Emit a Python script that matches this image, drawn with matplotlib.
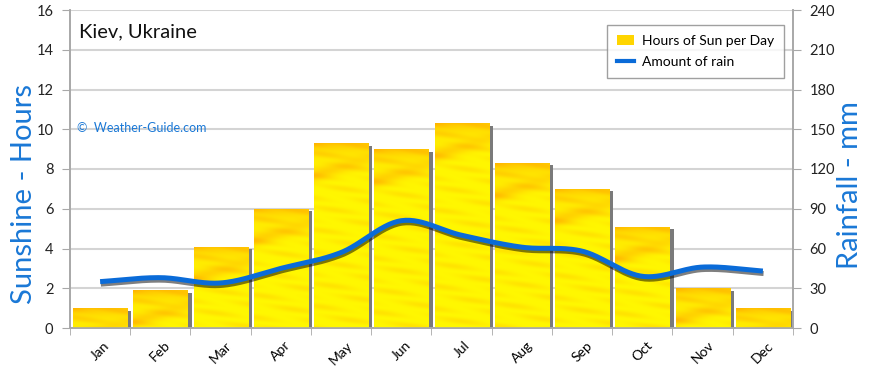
import matplotlib as mpl
import matplotlib.pyplot as plt
import numpy as np
from matplotlib import patheffects as pe
from matplotlib.patches import Patch
from matplotlib.lines import Line2D

mpl.rcParams.update({
    "font.family": ["Lato", "DejaVu Sans"],
    "font.size": 10,
})

months = ["Jan", "Feb", "Mar", "Apr", "May", "Jun",
          "Jul", "Aug", "Sep", "Oct", "Nov", "Dec"]
sun_hours = [1.0, 1.9, 4.1, 6.0, 9.3, 9.0, 10.3, 8.3, 7.0, 5.1, 2.0, 1.0]
rain_mm = [35, 38, 34, 45, 57, 81, 70, 61, 58, 39, 46, 43]
sun_ticks = [0, 2, 4, 6, 8, 10, 12, 14, 16]
rain_ticks = [0, 30, 60, 90, 120, 150, 180, 210, 240]

BLUE = "#1a78d6"
LINE_BLUE = "#0a6bd8"
GRID = "#d4d4d4"
AXIS = "#a8a8a8"


def bar_texture(height, w=60):
    # streaky yellow/orange fill; v is hours below the bar top
    h = max(int(height * 20), 4)
    v, u = np.mgrid[0:height:h * 1j, 0:1:w * 1j]
    streak = 0.5 + 0.5 * np.sin(2 * np.pi * (v / 1.3 - u * 0.9))
    streak2 = 0.5 + 0.5 * np.sin(2 * np.pi * (v / 0.55 - u * 0.4 + 0.3))
    top = np.exp(-v / 0.5) * (0.75 + 0.25 * (1 - u))
    band = 0.55 * np.exp(-((v - 1.6 + 0.8 * u) / 0.35) ** 2) * (1 - 0.5 * u)
    wgt = np.clip(0.28 * streak * streak2 + 0.85 * top + band, 0, 1)
    yellow = np.array([1.0, 0.97, 0.0])
    orange = np.array([1.0, 0.70, 0.0])
    return yellow * (1 - wgt[..., None]) + orange * wgt[..., None]


fig = plt.figure(figsize=(8.7, 3.68), dpi=100)
ax = fig.add_axes([70 / 870, 40 / 368, 723 / 870, 318 / 368])
ax2 = ax.twinx()

x = np.arange(len(months))
width = 0.9

ax.set_xlim(-0.5, 11.5)
ax.set_ylim(0, 16)
ax2.set_ylim(0, 240)

# shadows then bars
ax.bar(x + 0.07, np.array(sun_hours) - 0.12, width=width, color="#7a7a7a",
       zorder=2)
bars = ax.bar(x, sun_hours, width=width, color="#fff200", zorder=3)
for b in bars:
    x0, y0, bh = b.get_x(), b.get_y(), b.get_height()
    im = ax.imshow(bar_texture(bh), extent=[x0, x0 + b.get_width(), y0, y0 + bh],
                   origin="upper", aspect="auto", zorder=3.5,
                   interpolation="bilinear")
    im.set_clip_path(b)

# rain line, drawn as a smooth curve through the monthly values
r = np.array(rain_mm, dtype=float)
m = np.gradient(r)
xs, ys = [], []
for i in range(len(r) - 1):
    t = np.linspace(0, 1, 30)
    h00 = 2 * t**3 - 3 * t**2 + 1
    h10 = t**3 - 2 * t**2 + t
    h01 = -2 * t**3 + 3 * t**2
    h11 = t**3 - t**2
    xs.append(i + t)
    ys.append(h00 * r[i] + h10 * m[i] + h01 * r[i + 1] + h11 * m[i + 1])
xs = np.concatenate(xs)
ys = np.concatenate(ys)
ax2.plot(xs, ys, color=LINE_BLUE, lw=3.6, solid_capstyle="butt", zorder=5,
         path_effects=[pe.SimpleLineShadow(offset=(0.5, -1.8), shadow_color="black",
                                           alpha=0.5, rho=1),
                       pe.Normal()])

# axes styling
ax.set_yticks(sun_ticks)
ax2.set_yticks(rain_ticks)
ax.set_xticks(x)
ax.set_xticks(np.arange(-0.5, 12, 1), minor=True)
ax.set_xticklabels(months, rotation=45, ha="center", fontsize=10)
ax.tick_params(axis="x", which="major", length=0, pad=8)
ax.tick_params(axis="x", which="minor", length=5, color=AXIS)
ax.tick_params(axis="y", length=6, color=AXIS, labelsize=10.5, pad=6,
               labelcolor="#222222")
ax2.tick_params(axis="y", length=6, color=AXIS, labelsize=10.5, pad=6,
                labelcolor="#222222")
ax.grid(axis="y", color=GRID, lw=1.5, zorder=0)
ax.set_axisbelow(True)
for a in (ax, ax2):
    a.spines["top"].set_visible(False)
    for s in ("left", "right", "bottom"):
        a.spines[s].set_color(AXIS)
        a.spines[s].set_linewidth(1.2)

fig.text(24 / 870, 1 - 194 / 368, "Sunshine - Hours", rotation=90, color=BLUE,
         fontsize=21, ha="center", va="center")
fig.text(850 / 870, 1 - 185 / 368, "Rainfall - mm", rotation=90, color=BLUE,
         fontsize=21, ha="center", va="center")

ax.text(0.013, 0.93, "Kiev, Ukraine", transform=ax.transAxes, fontsize=14.5,
        va="center", ha="left", color="#111111")
ax.text(0.01, 0.63, "\u00a9  Weather-Guide.com", transform=ax.transAxes,
        fontsize=9, va="center", ha="left", color=BLUE)

handles = [Patch(facecolor="#ffd500", edgecolor="none"),
           Line2D([], [], color=LINE_BLUE, lw=3)]
leg = ax2.legend(handles, ["Hours of Sun per Day", "Amount of rain"],
                 loc="upper right", bbox_to_anchor=(0.997, 0.975), fontsize=10,
                 frameon=True, fancybox=False, edgecolor="#888888",
                 borderpad=0.7, handlelength=1.2, handletextpad=0.6,
                 labelspacing=0.7)
leg.get_frame().set_linewidth(1.0)
leg.set_zorder(10)

fig.savefig("out.png", dpi=100)
